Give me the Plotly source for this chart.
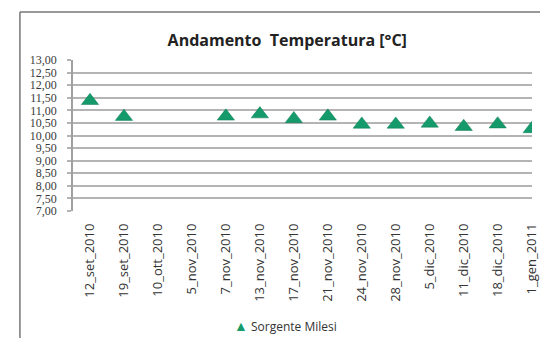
import plotly.graph_objects as go

categories = ["12_set_2010", "19_set_2010", "10_ott_2010", "5_nov_2010", "7_nov_2010",
              "13_nov_2010", "17_nov_2010", "21_nov_2010", "24_nov_2010", "28_nov_2010",
              "5_dic_2010", "11_dic_2010", "18_dic_2010", "1_gen_2011"]
temperature = [11.38, 10.75, None, None, 10.76, 10.85, 10.66, 10.76, 10.44, 10.44,
               10.48, 10.35, 10.45, 10.26]
series_name = "Sorgente Milesi"
y_ticks = [7.0, 7.5, 8.0, 8.5, 9.0, 9.5, 10.0, 10.5, 11.0, 11.5, 12.0, 12.5, 13.0]

W, H = 540, 338
L, R, T, B = 73, 0, 60, 127
pw, ph = W - L - R, H - T - B
GREEN = "#159a6b"

fig = go.Figure()
fig.add_trace(go.Scatter(
    x=list(range(len(categories))), y=temperature, mode="markers", name=series_name,
    marker=dict(symbol="triangle-up", size=15, color=GREEN,
                line=dict(color="#0f7d56", width=0.5)),
    showlegend=False,
))

fig.update_layout(
    width=W, height=H,
    margin=dict(l=L, r=R, t=T, b=B, pad=0),
    paper_bgcolor="white", plot_bgcolor="white",
    separators=",.",
    title=dict(text="<b>Andamento  Temperatura [°C]</b>", x=(291 - L) / pw, xref="paper",
               xanchor="center", y=1 - 40 / H, yanchor="middle",
               font=dict(family="Open Sans", size=16, color="#222222")),
    xaxis=dict(
        range=[-0.5, 13.01], tickmode="array", tickvals=list(range(len(categories))),
        ticktext=categories, tickangle=-90, showgrid=False, zeroline=False,
        showline=False, ticks="", tickfont=dict(family="Open Sans", size=13, color="#333333"),
        ticklabelstandoff=9, ticklabeloverflow="allow",
    ),
    yaxis=dict(
        range=[7, 13], tickmode="array", tickvals=y_ticks,
        ticktext=[f"{v:.2f}".replace(".", ",") for v in y_ticks],
        showgrid=True, gridcolor="#b4b4b4", gridwidth=1.5, zeroline=False,
        showline=True, linecolor="#a0a0a0", linewidth=1.5,
        ticks="outside", ticklen=4, tickcolor="#b4b4b4", tickwidth=1.5,
        tickfont=dict(family="Liberation Serif", size=12, color="#3a3a3a"),
        ticklabelstandoff=8,
    ),
)

# legend (Excel-style: small marker right next to the label)
fig.add_annotation(
    xref="paper", yref="paper", x=(235 - L) / pw, y=-(325 - (T + ph)) / ph,
    xanchor="left", yanchor="middle", showarrow=False,
    text=f"<span style='color:{GREEN};font-size:14px'>▲</span> {series_name}",
    font=dict(family="Open Sans", size=12, color="#333333"),
)

fx = (19 - L) / pw
fy = 1 + (T - 12) / ph
fig.add_shape(type="line", xref="paper", yref="paper", x0=fx, x1=fx, y0=-2, y1=fy,
              line=dict(color="#777777", width=1.5))
fig.add_shape(type="line", xref="paper", yref="paper", x0=fx, x1=1.2, y0=fy, y1=fy,
              line=dict(color="#777777", width=1.5))

fig.write_html("out.html")
